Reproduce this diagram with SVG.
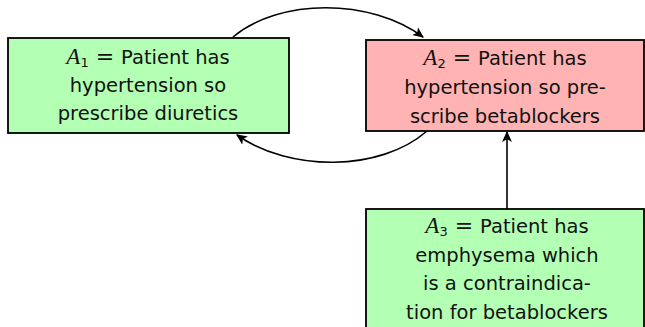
<svg xmlns="http://www.w3.org/2000/svg" width="645" height="327" viewBox="0 0 645 327">
<style>
.box{stroke:#000;stroke-width:1.8}
.g{fill:#b3ffb3}
.r{fill:#ffb3b3}
.t{font-family:"DejaVu Sans","Liberation Sans",sans-serif;font-size:19.5px;fill:#111;text-anchor:middle}
.m{font-family:"Liberation Serif",serif;font-style:italic;font-size:23px}
.s{font-size:13px}
.e{font-size:22px}
.c{fill:none;stroke:#000;stroke-width:1.6}
</style>
<defs>
<marker id="ah" viewBox="0 0 10 10" refX="9" refY="5" markerWidth="11" markerHeight="11" markerUnits="userSpaceOnUse" orient="auto">
<path d="M0,0.5 L10,5 L0,9.5 L2.5,5 Z" fill="#000"/>
</marker>
</defs>
<g id="connectors">
<path class="c" d="M233,37 C280,-2 370,-2 423,37" marker-end="url(#ah)"/>
<path class="c" d="M427,131 C380,172 290,172 237,135" marker-end="url(#ah)"/>
<path class="c" d="M507,209 L507,132" marker-end="url(#ah)"/>
</g>
<g id="A1">
<rect class="box g" x="8" y="38" width="281" height="95"/>
<text class="t" x="148" y="64"><tspan class="m">A</tspan><tspan class="s" dy="3">1</tspan><tspan class="e" dy="-3"> = </tspan><tspan>Patient has</tspan></text>
<text class="t" x="148" y="92">hypertension so</text>
<text class="t" x="148" y="120">prescribe diuretics</text>
</g>
<g id="A2">
<rect class="box r" x="366" y="40" width="278" height="91"/>
<text class="t" x="505" y="65"><tspan class="m">A</tspan><tspan class="s" dy="3">2</tspan><tspan class="e" dy="-3"> = </tspan><tspan>Patient has</tspan></text>
<text class="t" x="505" y="94">hypertension so pre-</text>
<text class="t" x="505" y="123">scribe betablockers</text>
</g>
<g id="A3">
<rect class="box g" x="366" y="209" width="278" height="125"/>
<text class="t" x="507" y="233"><tspan class="m">A</tspan><tspan class="s" dy="3">3</tspan><tspan class="e" dy="-3"> = </tspan><tspan>Patient has</tspan></text>
<text class="t" x="507" y="262">emphysema which</text>
<text class="t" x="507" y="290">is a contraindica-</text>
<text class="t" x="507" y="319">tion for betablockers</text>
</g>
</svg>
